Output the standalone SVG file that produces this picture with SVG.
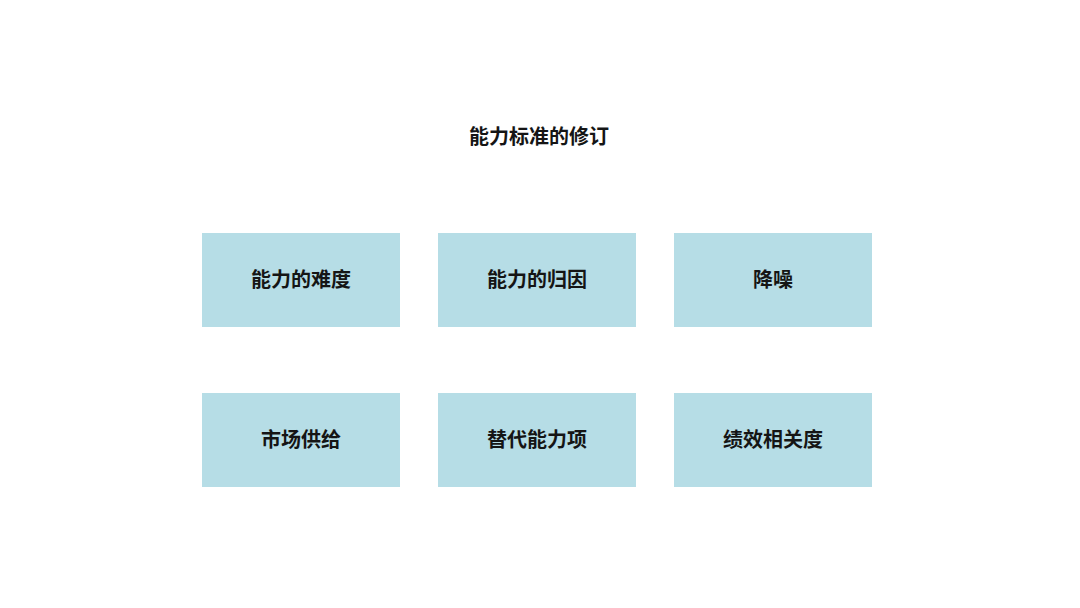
<svg xmlns="http://www.w3.org/2000/svg" width="1080" height="608" viewBox="0 0 1080 608">
<style>
.box{fill:#b6dde6;}
.t{font-family:"Liberation Sans","Noto Sans CJK SC",sans-serif;font-size:20px;font-weight:bold;fill:#151515;text-anchor:middle;dominant-baseline:central;}
</style>
<rect width="1080" height="608" fill="#ffffff"/>
<g id="title"><text class="t" x="539" y="137">能力标准的修订</text></g>
<g id="n1"><rect class="box" x="202" y="233" width="198" height="94"/><text class="t" x="301" y="280">能力的难度</text></g>
<g id="n2"><rect class="box" x="438" y="233" width="198" height="94"/><text class="t" x="537" y="280">能力的归因</text></g>
<g id="n3"><rect class="box" x="674" y="233" width="198" height="94"/><text class="t" x="773" y="280">降噪</text></g>
<g id="n4"><rect class="box" x="202" y="393" width="198" height="94"/><text class="t" x="301" y="440">市场供给</text></g>
<g id="n5"><rect class="box" x="438" y="393" width="198" height="94"/><text class="t" x="537" y="440">替代能力项</text></g>
<g id="n6"><rect class="box" x="674" y="393" width="198" height="94"/><text class="t" x="773" y="440">绩效相关度</text></g>
<g id="connectors"></g>
</svg>
